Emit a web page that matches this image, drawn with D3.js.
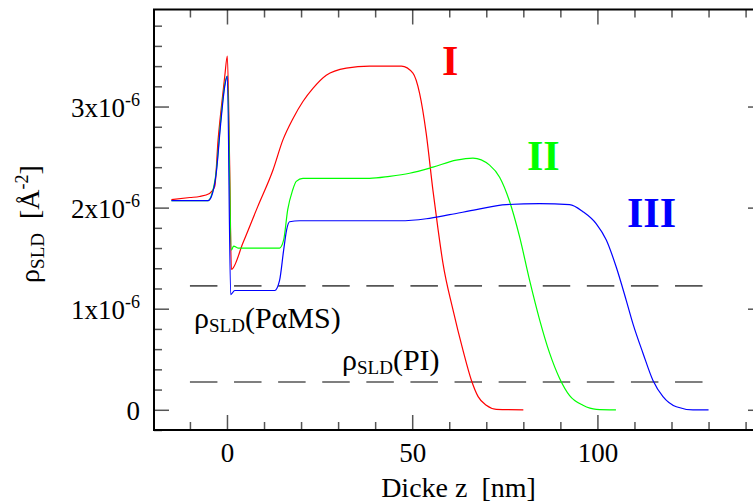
<!DOCTYPE html>
<html>
<head>
<meta charset="utf-8">
<script src="https://cdn.jsdelivr.net/npm/d3@7"></script>
<style>
  body { margin: 0; background: #fff; }
  text { font-family: "Liberation Serif", "Times New Roman", serif; fill: #000; white-space: pre; }
</style>
</head>
<body>
<script>
// SLD profiles, z in nm, rho in units of 1e-6 A^-2
const zI   = [-15, -10, -7.4, -4.7, -3.3, -2.4, -1.5, -0.6, 0.1, 0.7, 1.2, 4.3, 8.3, 12.4, 15.1, 17.8, 20.5, 23.2, 26.8, 32.2, 38.5, 47.1, 50.2, 52.0, 53.8, 55.6, 57.0, 58.3, 61.0, 63.7, 66.0, 67.8, 70.0, 72.7, 80];
const rhoI = [2.08, 2.10, 2.11, 2.14, 2.21, 2.67, 3.00, 3.30, 3.50, 2.47, 1.39, 1.65, 2.01, 2.37, 2.67, 2.88, 3.05, 3.18, 3.31, 3.38, 3.40, 3.40, 3.33, 3.13, 2.73, 2.17, 1.78, 1.45, 0.99, 0.59, 0.29, 0.13, 0.045, 0.005, 0];

const zII   = [-15, -5.1, -4.2, -2.9, -1.7, -0.6, 0.1, 1.2, 1.8, 3, 14.2, 15.3, 16.4, 17.7, 18.7, 20.5, 38.5, 43.9, 49.3, 55.6, 61.9, 66.4, 70.9, 73.6, 76.3, 79.0, 81.7, 84.4, 87.1, 89.8, 92.5, 96.1, 99.7, 105];
const rhoII = [2.07, 2.07, 2.12, 2.36, 2.86, 3.22, 3.30, 1.58, 1.62, 1.60, 1.60, 1.68, 1.98, 2.17, 2.26, 2.29, 2.29, 2.31, 2.34, 2.40, 2.47, 2.49, 2.42, 2.30, 2.06, 1.71, 1.28, 0.89, 0.56, 0.31, 0.14, 0.045, 0.005, 0];

const zIII   = [-15, -5.1, -4.2, -2.9, -1.7, -0.6, 0.1, 1.0, 2.1, 12.9, 14.2, 15.3, 16.1, 16.9, 19.6, 46.6, 53.8, 60.1, 67.3, 75.4, 84.4, 92.5, 96.1, 99.7, 102.4, 105.1, 107.8, 109.6, 112.3, 115.0, 117.7, 121.3, 125.8, 130];
const rhoIII = [2.07, 2.07, 2.11, 2.34, 2.83, 3.20, 3.30, 1.14, 1.18, 1.18, 1.28, 1.58, 1.78, 1.86, 1.87, 1.87, 1.89, 1.93, 1.98, 2.03, 2.04, 2.03, 1.96, 1.84, 1.68, 1.41, 1.08, 0.85, 0.56, 0.29, 0.13, 0.03, 0, 0];

// reference levels rho_SLD(PaMS) and rho_SLD(PI)
const refLevels = [1.226, 0.275];
const refZ = [-10, 128.5];

const xMajor = [0, 50, 100, 150];
const xLabeled = [0, 50, 100];
const xMinor = d3.range(-10, 150, 10).filter(d => d % 50 !== 0);
const yMajor = [0, 1, 2, 3];
const yMinor = [-0.2, 0.2, 0.4, 0.6, 0.8, 1.2, 1.4, 1.6, 1.8, 2.2, 2.4, 2.6, 2.8, 3.2, 3.4, 3.6, 3.8];

const W = 753, H = 502;
const pLeft = 154, pRight = 763, pTop = 9.5, pBottom = 430;

const svg = d3.select("body").append("svg")
    .attr("width", W)
    .attr("height", H);

const x = d3.scaleLinear().domain([-19.7, 144.7]).range([pLeft, pRight]);
const y = d3.scaleLinear().domain([-0.2, 3.96]).range([pBottom, pTop]);

// ticks
function ticks(axis, pos, size) {
  const g = svg.append("g")
      .attr("transform", pos)
      .call(axis.tickSize(size).tickSizeOuter(0));
  g.select(".domain").remove();
  g.selectAll(".tick line").attr("stroke", "#555").attr("stroke-width", 1.5);
  return g;
}
ticks(d3.axisBottom(x).tickValues(xMinor).tickFormat(""), `translate(0,${pBottom})`, -8);
ticks(d3.axisBottom(x).tickValues(xMajor).tickFormat(""), `translate(0,${pBottom})`, -15);
ticks(d3.axisTop(x).tickValues(xMinor).tickFormat(""), `translate(0,${pTop})`, -8);
ticks(d3.axisTop(x).tickValues(xMajor).tickFormat(""), `translate(0,${pTop})`, -15);
ticks(d3.axisLeft(y).tickValues(yMinor).tickFormat(""), `translate(${pLeft},0)`, -8);
ticks(d3.axisRight(y).tickValues(yMinor).tickFormat(""), `translate(${pRight},0)`, -8);
ticks(d3.axisRight(y).tickValues(yMajor).tickFormat(""), `translate(${pRight},0)`, -15);

// x tick labels
const xAxis = svg.append("g")
    .attr("transform", `translate(0,${pBottom})`)
    .call(d3.axisBottom(x).tickValues(xLabeled).tickSize(0));
xAxis.select(".domain").remove();
xAxis.selectAll(".tick text")
    .attr("y", 32).attr("dy", null)
    .attr("font-size", 27).attr("font-family", null).attr("fill", "#000");

const yAxis = ticks(d3.axisLeft(y).tickValues(yMajor).tickPadding(14), `translate(${pLeft},0)`, -15);
yAxis.selectAll(".tick text")
    .attr("dy", 10).attr("font-size", 27).attr("font-family", null).attr("fill", "#000")
    .each(function(d) {
      const t = d3.select(this).text(null);
      if (d === 0) { t.text("0"); return; }
      t.append("tspan").text(d + "x10");
      t.append("tspan").attr("font-size", 18).attr("dy", -11).text("-6");
    });

// frame
svg.append("rect")
    .attr("x", pLeft).attr("y", pTop)
    .attr("width", pRight - pLeft).attr("height", pBottom - pTop)
    .attr("fill", "none").attr("stroke", "#000").attr("stroke-width", 2);

// dashed reference lines
svg.selectAll(".ref").data(refLevels).enter().append("line")
    .attr("x1", x(refZ[0])).attr("x2", x(refZ[1]))
    .attr("y1", d => y(d)).attr("y2", d => y(d))
    .attr("stroke", "#555").attr("stroke-width", 1.6)
    .attr("stroke-dasharray", "27.5,16.6");

// profiles
const line = d3.line().x(d => x(d[0])).y(d => y(d[1])).curve(d3.curveMonotoneX);
const series = [
  { z: zI, rho: rhoI, color: "#ff0000" },
  { z: zII, rho: rhoII, color: "#00ff00" },
  { z: zIII, rho: rhoIII, color: "#0000ff" }
];
series.forEach(s => {
  svg.append("path")
      .datum(d3.zip(s.z, s.rho))
      .attr("d", line)
      .attr("fill", "none")
      .attr("stroke", s.color)
      .attr("stroke-width", 1.2);
});

// roman numeral labels
const romans = [
  { t: "I", x: 442, y: 75, c: "#ff0000" },
  { t: "II", x: 527, y: 170, c: "#00ff00" },
  { t: "III", x: 627, y: 227, c: "#0000ff" }
];
svg.selectAll(".roman").data(romans).enter().append("text")
    .attr("x", d => d.x).attr("y", d => d.y)
    .attr("font-size", 42).attr("font-weight", "bold")
    .style("fill", d => d.c)
    .text(d => d.t);

// rho annotations
function rhoLabel(px, py, what) {
  const t = svg.append("text").attr("x", px).attr("y", py).attr("font-size", 30);
  t.append("tspan").text("ρ");
  t.append("tspan").attr("font-size", 19).attr("dy", 4).text("SLD");
  t.append("tspan").attr("dy", -4).text("(" + what + ")");
}
rhoLabel(194, 328, "PαMS");
rhoLabel(342, 369.5, "PI");

// axis titles
svg.append("text")
    .attr("x", (pLeft + pRight) / 2).attr("y", 497)
    .attr("text-anchor", "middle").attr("font-size", 28)
    .text("Dicke z\u00a0\u00a0[nm]");

const yt = svg.append("text")
    .attr("transform", "translate(39,224) rotate(-90)")
    .attr("text-anchor", "middle").attr("font-size", 28);
yt.append("tspan").text("ρ");
yt.append("tspan").attr("font-size", 19).attr("dy", 5).text("SLD");
yt.append("tspan").attr("dy", -5).text("\u00a0\u00a0[Å");
yt.append("tspan").attr("font-size", 18).attr("dy", -11).text("-2");
yt.append("tspan").attr("dy", 11).text("]");
</script>
</body>
</html>
